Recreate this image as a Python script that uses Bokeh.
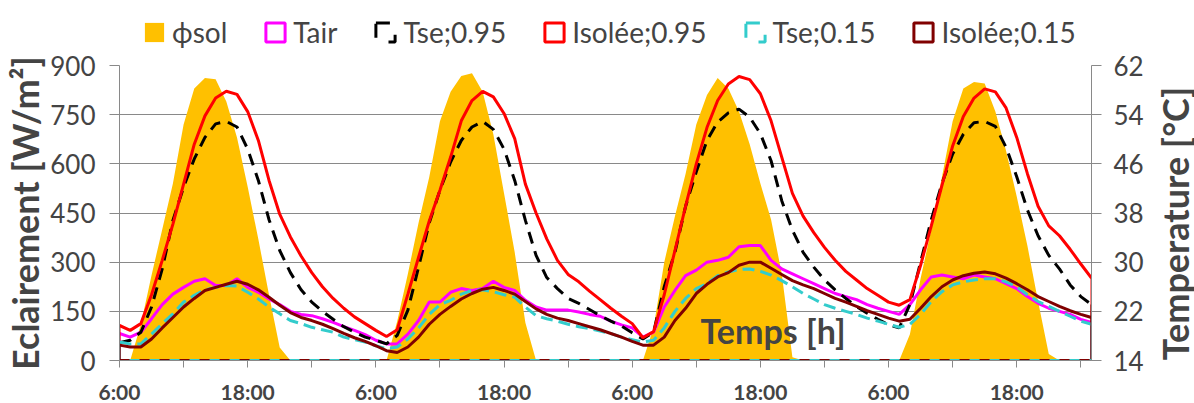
import math
from bokeh.plotting import figure
from bokeh.layouts import column, row
from bokeh.models import Range1d, LinearAxis, FixedTicker, Legend, LegendItem, Label
from bokeh.embed import file_html
from bokeh.resources import INLINE

hours = list(range(6, 98))

phi_sol = ([0, 0, 110, 260, 400, 540, 720, 830, 862, 858, 790, 680, 530, 370, 200, 40, 0]
           + [0] * 9
           + [120, 265, 420, 560, 730, 820, 868, 876, 820, 690, 510, 330, 115, 0]
           + [0] * 10
           + [100, 300, 440, 570, 720, 810, 862, 830, 760, 660, 540, 430, 265, 10, 0]
           + [0] * 9
           + [80, 250, 400, 560, 730, 830, 850, 845, 760, 640, 500, 350, 180, 20, 0]
           + [0] * 3)

tair = [18.4, 17.8, 18.6, 20.8, 23.1, 24.8, 25.9, 26.9, 27.3, 26.2, 26.2, 27.3, 25.9, 25.1, 24.0, 23.1,
        22.0, 21.5, 21.3, 20.8, 20.2, 19.5, 18.9, 18.2, 17.3, 16.7, 16.7, 18.3, 20.5, 23.5, 23.5, 25.1,
        25.7, 25.4, 25.7, 26.9, 25.9, 25.4, 23.8, 22.7, 22.2, 22.2, 22.2, 21.9, 21.5, 21.2, 20.4, 19.8,
        19.3, 17.8, 18.6, 22.7, 25.4, 27.8, 28.7, 30.0, 30.3, 30.8, 32.5, 32.7, 32.7, 30.3, 28.9, 28.1,
        27.3, 26.5, 25.7, 24.9, 24.4, 23.9, 23.1, 22.5, 22.0, 21.5, 23.1, 25.5, 27.6, 27.9, 27.6, 27.3,
        27.9, 27.6, 27.3, 26.5, 25.7, 24.4, 23.3, 22.5, 22.0, 21.5, 20.7, 20.2]

tse_095 = [16.9, 17.3, 18.6, 22.7, 28.9, 36.8, 42.2, 46.8, 50.3, 52.5, 52.9, 52.0, 48.4, 43.3, 36.9, 31.9,
           28.3, 25.5, 23.5, 22.0, 20.7, 19.5, 18.6, 17.8, 17.3, 16.7, 18.1, 22.2, 29.2, 36.4, 41.7, 46.3,
           49.8, 52.0, 52.9, 51.6, 48.4, 43.3, 36.8, 31.1, 27.5, 25.7, 24.1, 23.3, 22.3, 21.3, 20.4, 19.6,
           18.5, 17.5, 18.6, 26.0, 31.6, 39.1, 44.7, 49.8, 52.8, 54.3, 54.9, 53.6, 50.9, 46.5, 40.0, 35.2,
           31.6, 29.2, 27.1, 25.5, 24.1, 22.8, 21.7, 20.7, 19.8, 19.3, 23.1, 30.0, 36.9, 42.8, 47.6, 50.8,
           52.7, 52.9, 52.1, 48.7, 43.9, 38.5, 34.3, 31.1, 28.9, 26.3, 24.4, 23.1]

iso_095 = [19.7, 18.9, 20.0, 24.7, 30.3, 36.2, 42.7, 49.2, 53.8, 56.7, 57.8, 57.3, 54.5, 49.8, 43.3, 37.8,
           34.1, 31.0, 28.3, 26.0, 24.1, 22.5, 21.1, 20.0, 18.9, 17.9, 19.0, 24.8, 30.8, 36.7, 41.7, 47.1,
           53.0, 56.3, 57.8, 56.9, 54.2, 50.1, 42.7, 38.0, 33.8, 30.3, 28.0, 26.8, 25.3, 23.9, 22.5, 21.2,
           20.0, 17.7, 18.7, 24.7, 31.9, 39.1, 46.0, 51.9, 56.3, 59.0, 60.2, 59.7, 57.4, 53.0, 47.1, 41.2,
           37.5, 34.8, 32.4, 30.3, 28.5, 27.1, 25.7, 24.6, 23.5, 23.0, 23.9, 29.5, 35.9, 42.5, 48.9, 53.7,
           56.7, 58.2, 57.7, 55.1, 50.3, 44.4, 39.1, 35.9, 34.3, 32.1, 29.7, 27.4]

tse_015 = [17.0, 16.7, 16.7, 18.3, 20.0, 21.6, 23.5, 24.6, 25.5, 25.9, 26.2, 26.1, 25.1, 24.0, 22.7, 21.6,
           20.5, 20.0, 19.4, 19.0, 18.6, 17.8, 17.4, 17.0, 16.4, 15.9, 16.2, 17.5, 19.3, 21.5, 23.1, 23.8,
           24.8, 25.4, 25.5, 25.2, 24.7, 24.3, 22.7, 21.3, 20.8, 20.4, 19.9, 19.5, 19.2, 18.8, 18.4, 17.8,
           17.4, 17.0, 17.3, 19.3, 22.0, 24.1, 25.7, 26.5, 27.8, 28.4, 28.8, 28.9, 28.5, 27.9, 27.0, 26.0,
           24.9, 24.0, 23.1, 22.5, 22.0, 21.5, 20.9, 20.4, 19.9, 19.4, 19.9, 21.5, 23.6, 25.2, 26.3, 26.8,
           27.1, 27.3, 27.3, 26.8, 26.0, 24.7, 23.6, 22.8, 22.0, 21.2, 20.4, 19.9]

iso_015 = [16.5, 16.2, 16.2, 17.5, 19.3, 21.0, 22.7, 24.1, 25.4, 25.9, 26.4, 26.9, 26.4, 25.5, 24.3, 23.0,
           21.8, 21.0, 20.5, 19.9, 19.2, 18.4, 17.7, 17.1, 16.4, 15.6, 15.3, 16.2, 17.8, 19.9, 21.5, 22.8,
           24.0, 24.9, 25.6, 25.9, 25.4, 24.8, 23.6, 22.4, 21.5, 20.9, 20.5, 20.0, 19.5, 19.0, 18.4, 17.8,
           17.1, 16.5, 16.5, 17.8, 20.5, 22.5, 24.9, 26.4, 27.6, 28.3, 29.5, 30.0, 30.0, 29.0, 28.0, 27.0,
           26.3, 25.7, 24.9, 24.1, 23.5, 22.8, 22.1, 21.5, 20.9, 20.4, 20.7, 22.5, 24.4, 26.0, 27.1, 27.8,
           28.2, 28.4, 28.1, 27.4, 26.5, 25.5, 24.4, 23.6, 22.8, 22.1, 21.5, 21.0]

left_ticks = [0, 150, 300, 450, 600, 750, 900]
right_ticks = [14, 22, 30, 38, 46, 54, 62]
x_ticks = list(range(6, 97, 6))
x_labels = {t: ("6:00" if t % 24 == 6 else "18:00" if t % 24 == 18 else "") for t in x_ticks}

series = [
    ("Tair", tair, "#FF00FF", "solid"),
    ("Tse;0.95", tse_095, "#000000", "12 8"),
    ("Isolée;0.95", iso_095, "#FF0000", "solid"),
    ("Tse;0.15", tse_015, "#33CCCC", "12 6"),
    ("Isolée;0.15", iso_015, "#800000", "solid"),
]

FONT = "Lato"
GRAY = "#898989"
NAN = float("nan")
SUN = "#FFC000"

# ---------------- main chart ----------------
p = figure(width=1150, height=356, output_backend="svg", toolbar_location=None,
           x_range=Range1d(hours[0], hours[-1]), y_range=Range1d(0, 900),
           min_border_left=118, min_border_right=59, min_border_top=15, min_border_bottom=46)
p.extra_y_ranges = {"temp": Range1d(14, 62)}
p.outline_line_color = None
p.background_fill_color = "white"
p.border_fill_color = "white"

p.varea(x=hours, y1=0, y2=phi_sol, fill_color=SUN)

for name, vals, col, dash in series:
    p.line(hours, vals, y_range_name="temp", line_color=col, line_width=3, line_dash=dash)
    p.segment(x0=[hours[0], hours[-1]], y0=[vals[0], vals[-1]], x1=[hours[0], hours[-1]],
              y1=[right_ticks[0], right_ticks[0]], y_range_name="temp", line_color=col, line_width=2)

p.line([hours[0], hours[-1]], [right_ticks[0], right_ticks[0]], y_range_name="temp",
       line_color="#33CCCC", line_width=3)
p.line([hours[0], hours[-1]], [right_ticks[0], right_ticks[0]], y_range_name="temp",
       line_color="#800000", line_width=3, line_dash="10 10")

p.xgrid.visible = False
p.ygrid.ticker = FixedTicker(ticks=left_ticks)
p.ygrid.grid_line_color = GRAY
p.ygrid.grid_line_width = 1

xa = p.xaxis[0]
xa.ticker = FixedTicker(ticks=x_ticks)
xa.major_label_overrides = x_labels
xa.major_label_text_font = FONT
xa.major_label_text_font_style = "bold"
xa.major_label_text_font_size = "21px"
xa.major_label_standoff = 11
xa.major_tick_in = 0
xa.major_tick_out = 7
xa.minor_tick_line_color = None
xa.axis_line_color = GRAY
xa.major_tick_line_color = GRAY

ya = p.yaxis[0]
ya.ticker = FixedTicker(ticks=left_ticks)
ya.axis_label = "Eclairement [W/m²]"
ya.axis_label_text_font = FONT
ya.axis_label_text_font_style = "bold"
ya.axis_label_text_font_size = "36px"
ya.axis_label_standoff = 0
ya.major_label_text_font = FONT
ya.major_label_text_font_size = "26px"
ya.major_label_standoff = 14
ya.major_tick_in = 0
ya.major_tick_out = 10
ya.minor_tick_line_color = None
ya.axis_line_color = GRAY
ya.major_tick_line_color = GRAY

ra = LinearAxis(y_range_name="temp", ticker=FixedTicker(ticks=right_ticks))
ra.major_label_text_font = FONT
ra.major_label_text_font_size = "26px"
ra.major_label_standoff = 12
ra.major_tick_in = 0
ra.major_tick_out = 10
ra.minor_tick_line_color = None
ra.axis_line_color = GRAY
ra.major_tick_line_color = GRAY
p.add_layout(ra, "right")

p.add_layout(Label(x=60.4, y=92, text="Temps [h]", text_font=FONT, text_font_style="bold",
                   text_font_size="34px", text_baseline="alphabetic"))

# ---------------- legend strip ----------------
lg = figure(width=1150, height=50, output_backend="svg", toolbar_location=None,
            x_axis_location=None, y_axis_location=None, x_range=Range1d(0, 1), y_range=Range1d(0, 1),
            min_border_left=0, min_border_right=0, min_border_top=0, min_border_bottom=0)
lg.outline_line_color = None
lg.grid.visible = False

items = [LegendItem(label="ϕsol", renderers=[lg.varea(x=[NAN], y1=[NAN], y2=[NAN], fill_color=SUN)])]
for name, vals, col, dash in series:
    icon_dash = "solid" if dash == "solid" else "14 17"
    r = lg.quad(left=[NAN], right=[NAN], top=[NAN], bottom=[NAN], fill_color=None, line_color=col,
                line_width=3, line_dash=icon_dash)
    items.append(LegendItem(label=name, renderers=[r]))

legend = Legend(items=items, orientation="horizontal", location=(23, 1),
                glyph_width=24, glyph_height=24, label_standoff=6, spacing=36,
                padding=0, margin=0, border_line_color=None, background_fill_alpha=0,
                label_text_font=FONT, label_text_font_size="28px")
lg.add_layout(legend)

# ---------------- right title strip ----------------
rf = figure(width=44, height=406, output_backend="svg", toolbar_location=None,
            x_axis_location=None, y_axis_location=None, x_range=Range1d(0, 44), y_range=Range1d(0, 406),
            min_border_left=0, min_border_right=0, min_border_top=0, min_border_bottom=0)
rf.outline_line_color = None
rf.grid.visible = False
rf.add_layout(Label(x=24, y=183, x_units="screen", y_units="screen", text="Temperature [°C]",
                    angle=math.pi / 2, text_align="center", text_baseline="middle",
                    text_font=FONT, text_font_style="bold", text_font_size="36px"))

layout = row(column(lg, p, spacing=0), rf, spacing=0)
open("out.html", "w").write(file_html(layout, INLINE))
